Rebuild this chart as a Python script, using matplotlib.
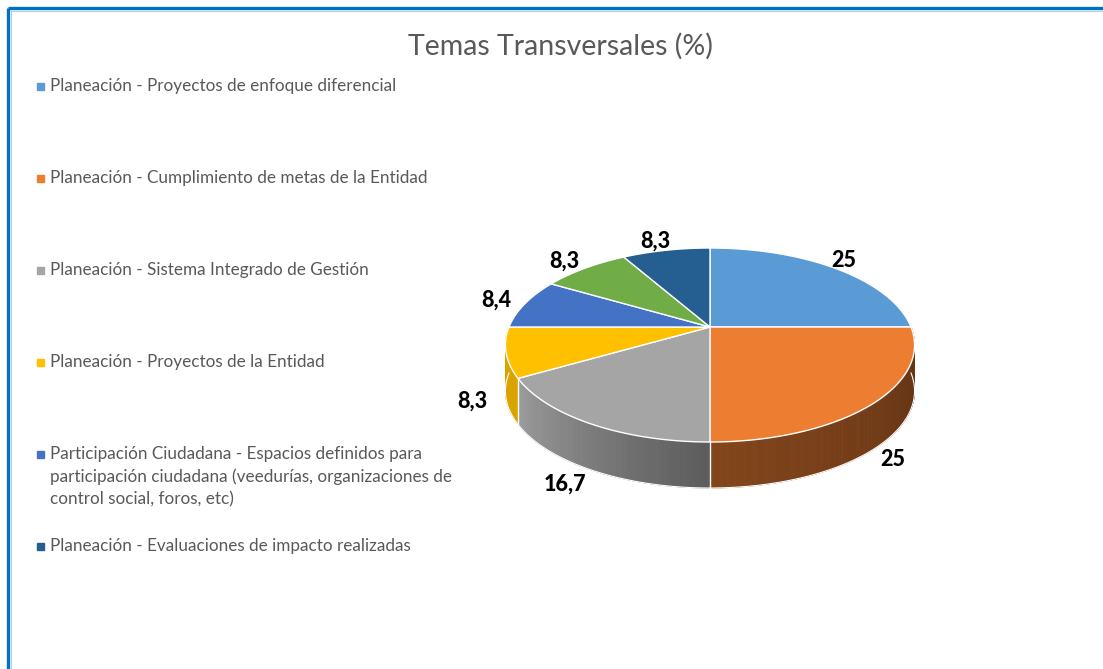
import numpy as np
import matplotlib
matplotlib.use("Agg")
import matplotlib.pyplot as plt
from matplotlib.patches import Rectangle

# chart data
values = [25, 25, 16.7, 8.3, 8.4, 8.3, 8.3]
value_labels = ["25", "25", "16,7", "8,3", "8,4", "8,3", "8,3"]
colors = ["#5B9BD5", "#ED7D31", "#A5A5A5", "#FFC000", "#4472C4", "#70AD47", "#255E91"]
legend_names = [
    "Planeación - Proyectos de enfoque diferencial",
    "Planeación - Cumplimiento de metas de la Entidad",
    "Planeación - Sistema Integrado de Gestión",
    "Planeación - Proyectos de la Entidad",
    "Participación Ciudadana - Espacios definidos para\n"
    "participación ciudadana (veedurías, organizaciones de\n"
    "control social, foros, etc)",
    "Planeación - Evaluaciones de impacto realizadas",
]
legend_colors = ["#5B9BD5", "#ED7D31", "#A5A5A5", "#FFC000", "#4472C4", "#255E91"]

# side shading (left end, right end) for each slice
side_shade = [(0.6, 0.5), (0.55, 0.40), (0.95, 0.55), (0.85, 0.85),
              (0.7, 0.6), (0.7, 0.6), (0.7, 0.6)]

W, H = 1103, 669
fig = plt.figure(figsize=(W / 100, H / 100), dpi=100)
ax = fig.add_axes([0, 0, 1, 1])
ax.set_xlim(0, W)
ax.set_ylim(H, 0)
ax.axis("off")

# perspective ellipse geometry (pixels)
cx, cy = 710, 327
rx, a, b = 201, 93.66, 0.1856
depth = 46


def project(phi, r=1.0):
    """phi in degrees, clockwise from 12 o'clock"""
    t = np.radians(phi)
    X = r * np.sin(t)
    Y = -r * np.cos(t)
    d = 1 - b * Y
    return cx + rx * X / d, cy + a * Y / d


def shade(c, f):
    rgb = np.array(matplotlib.colors.to_rgb(c))
    return tuple(np.clip(rgb * f, 0, 1))


bounds = np.concatenate([[0], np.cumsum(values)]) / np.sum(values) * 360

# side faces (front half only: 90..270)
for i in range(len(values)):
    lo, hi = max(bounds[i], 90), min(bounds[i + 1], 270)
    if hi <= lo:
        continue
    n = max(int((hi - lo) / 0.5), 2)
    phis = np.linspace(lo, hi, n + 1)
    f0, f1 = side_shade[i]
    for k in range(n):
        p0, p1 = phis[k], phis[k + 1]
        x0, y0 = project(p0)
        x1, y1 = project(p1)
        t = ((p0 + p1) / 2 - lo) / (hi - lo)  # 1 at left end
        col = shade(colors[i], f1 + (f0 - f1) * t)
        ax.fill([x0, x1, x1, x0], [y0, y1, y1 + depth, y0 + depth],
                color=col, lw=0.6, ec=col, zorder=2)
    xs, ys = project(phis)
    ax.plot(xs, ys + depth, color="white", lw=0.8, zorder=3)

# vertical edges at slice boundaries on the side
for p in bounds[1:-1]:
    if 90 < p < 270:
        x, y = project(p)
        ax.plot([x, x], [y, y + depth], color="white", lw=1, zorder=3)

# top faces
for i in range(len(values)):
    phis = np.linspace(bounds[i], bounds[i + 1], 200)
    xs, ys = project(phis)
    ax.fill(np.concatenate([[cx], xs]), np.concatenate([[cy], ys]),
            facecolor=colors[i], edgecolor="white", lw=1, zorder=4)

# data labels
for i in range(len(values)):
    mid = (bounds[i] + bounds[i + 1]) / 2
    x, y = project(mid, 1.13)
    if 90 < mid < 270:
        y += depth
    ax.text(x - 6, y - 1, value_labels[i], ha="center", va="center", fontsize=15.5,
            fontweight="black", family="Lato", color="black", zorder=6)

# title
ax.text(560, 46, "Temas Transversales (%)", ha="center", va="center",
        fontsize=20.5, family="Lato", color="#595959")

# legend
for i, (name, c) in enumerate(zip(legend_names, legend_colors)):
    y = 86 + 92 * i
    ax.add_patch(Rectangle((37, y - 3.5), 7, 7, color=c, zorder=5))
    ax.text(50, y - 8.5, name, ha="left", va="top", fontsize=12.3,
            family="Lato", color="#595959", linespacing=1.5)

# chart border
ax.plot([8, W + 5], [8, 8], color="#0070C0", lw=2.4, zorder=7, solid_capstyle="butt")
ax.plot([8, 8], [8, H + 5], color="#0070C0", lw=2.4, zorder=7, solid_capstyle="butt")
ax.plot([10.5, W + 5], [10.5, 10.5], color="#A9D0F0", lw=0.8, zorder=7)
ax.plot([10.5, 10.5], [10.5, H + 5], color="#A9D0F0", lw=0.8, zorder=7)

fig.savefig("out.png", dpi=100)
